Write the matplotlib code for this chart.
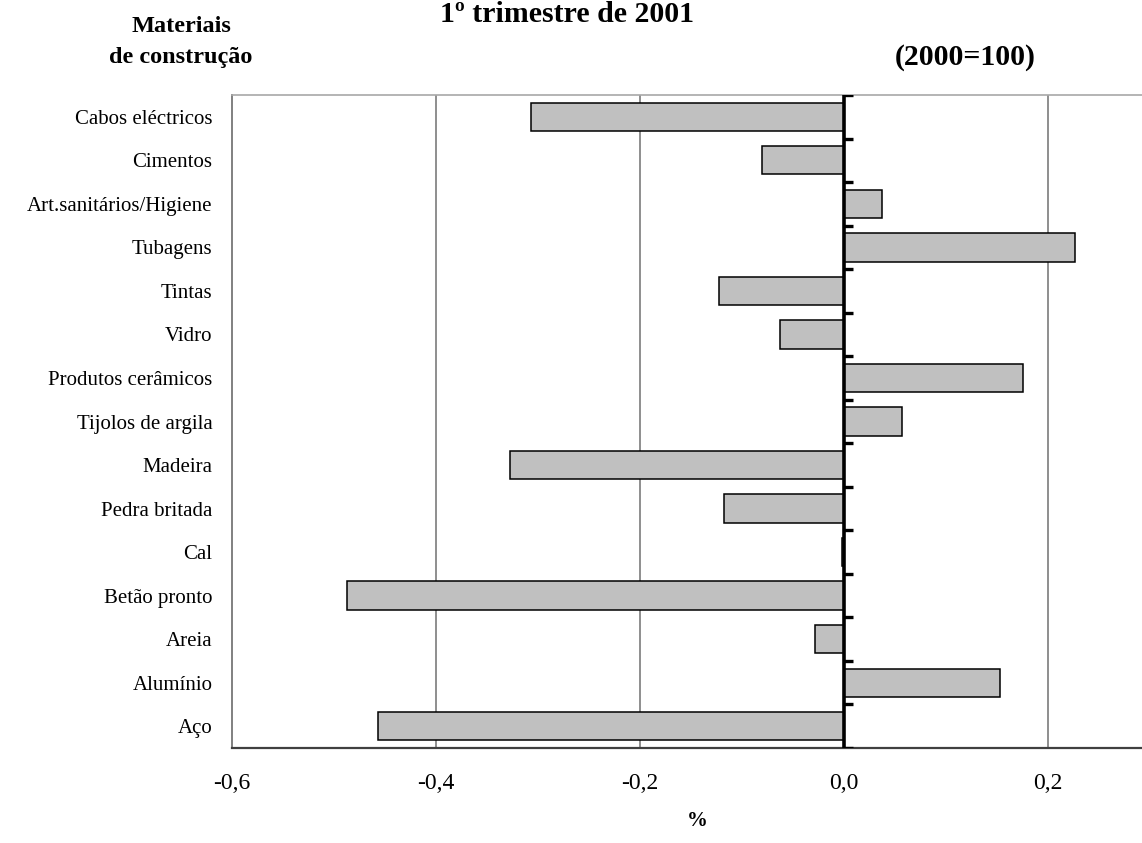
import numpy as np
import matplotlib
matplotlib.use('Agg')
import matplotlib.pyplot as plt

plt.rcParams['font.family'] = ['Liberation Serif', 'DejaVu Serif']

# variação trimestral dos preços por material (%)
materiais = ['Cabos eléctricos', 'Cimentos', 'Art.sanitários/Higiene', 'Tubagens',
             'Tintas', 'Vidro', 'Produtos cerâmicos', 'Tijolos de argila',
             'Madeira', 'Pedra britada', 'Cal', 'Betão pronto', 'Areia',
             'Alumínio', 'Aço']
variacao = [-0.307, -0.080, 0.038, 0.227, -0.122, -0.062, 0.176, 0.057,
            -0.327, -0.117, -0.002, -0.487, -0.028, 0.153, -0.457]
xticks = [-0.6, -0.4, -0.2, 0.0, 0.2]
xlabels = ['-0,6', '-0,4', '-0,2', '0,0', '0,2']

W, H = 1142, 843
fig = plt.figure(figsize=(W / 100, H / 100), dpi=100)
ax = fig.add_axes([232 / W, 1 - 748 / H, 1 - 232 / W, (748 - 95) / H])

n = len(materiais)
pos = np.arange(n)[::-1]
ax.barh(pos, variacao, height=0.65, color='#c0c0c0', edgecolor='black',
        linewidth=1.1, zorder=3)

ax.set_xlim(-0.6, 0.2926)
ax.set_ylim(-0.5, n - 0.5)

# grelha vertical
for g in [-0.4, -0.2, 0.2]:
    ax.axvline(g, color='#707070', lw=1.1, zorder=1)

# eixo das categorias no zero, com traços nas fronteiras
ax.axvline(0, color='black', lw=2.6, zorder=4)
bounds = np.arange(n + 1) - 0.5
ax.hlines(bounds, 0, 0.009, color='black', lw=2.4, zorder=4)

ax.set_yticks(pos)
ax.set_yticklabels(materiais, fontsize=15)
ax.tick_params(axis='y', length=0, pad=14)
ax.set_xticks(xticks)
ax.set_xticklabels(xlabels, fontsize=17)
ax.tick_params(axis='x', length=0, pad=18)

ax.spines['right'].set_visible(False)
ax.spines['left'].set_color('#808080')
ax.spines['left'].set_linewidth(1.4)
ax.spines['top'].set_color('#a8a8a8')
ax.spines['top'].set_linewidth(1.2)
ax.spines['bottom'].set_color('#404040')
ax.spines['bottom'].set_linewidth(1.6)

fig.text(567 / W, 1 - 22 / H, '1º trimestre de 2001', ha='center', va='baseline',
         fontsize=21.5, fontweight='bold')
fig.text(965 / W, 1 - 65 / H, '(2000=100)', ha='center', va='baseline',
         fontsize=21.5, fontweight='bold')
fig.text(181 / W, 1 - 32 / H, 'Materiais', ha='center', va='baseline',
         fontsize=17.5, fontweight='bold')
fig.text(181 / W, 1 - 63 / H, 'de construção', ha='center', va='baseline',
         fontsize=17.5, fontweight='bold')
fig.text(697 / W, 1 - 826 / H, '%', ha='center', va='baseline',
         fontsize=15, fontweight='bold')

fig.savefig('out.png', dpi=100)
